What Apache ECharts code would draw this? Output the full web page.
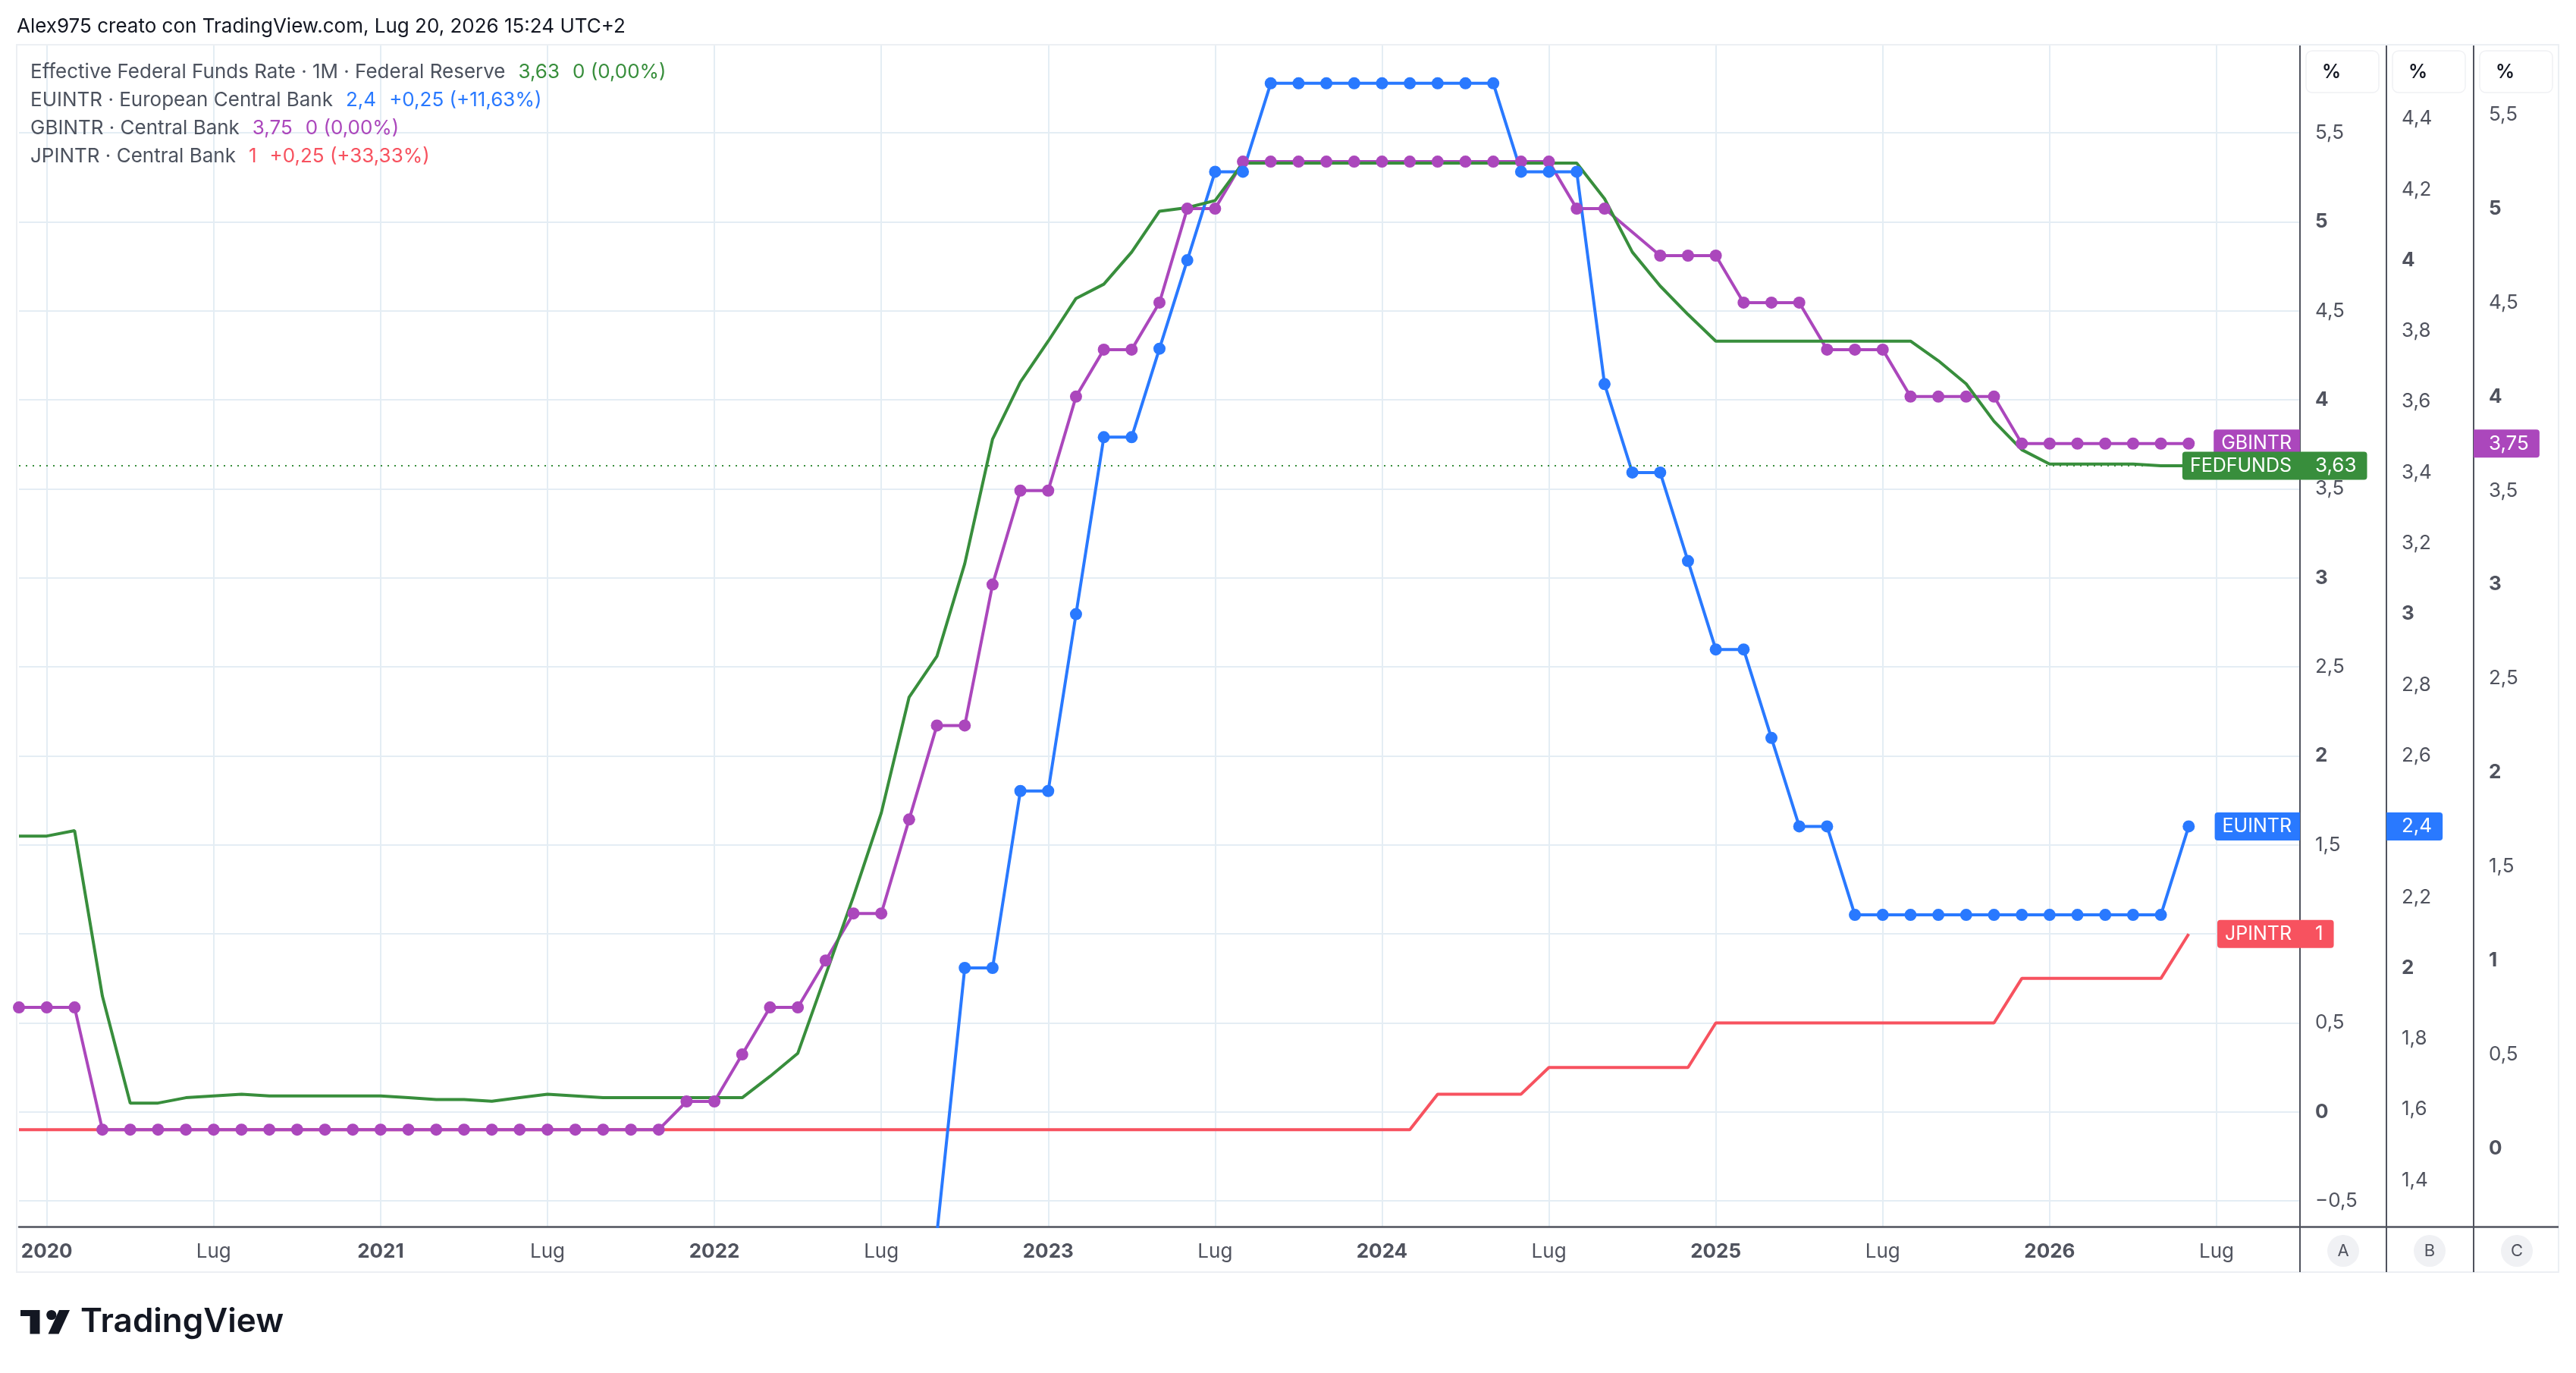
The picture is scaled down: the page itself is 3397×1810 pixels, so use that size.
<!DOCTYPE html>
<html>
<head>
<meta charset="utf-8">
<title>Tassi banche centrali</title>
<script src="https://cdn.jsdelivr.net/npm/echarts@6/dist/echarts.min.js"></script>
<style>
  html, body { margin: 0; padding: 0; background: #ffffff; }
  #chart { width: 3397px; height: 1810px; }
</style>
</head>
<body>
<div id="chart"></div>
<script>
// mesi (categorie asse x), da dic 2019 a ott 2026
var months = [
  '2019-12',
  '2020-01','2020-02','2020-03','2020-04','2020-05','2020-06','2020-07','2020-08','2020-09','2020-10','2020-11','2020-12',
  '2021-01','2021-02','2021-03','2021-04','2021-05','2021-06','2021-07','2021-08','2021-09','2021-10','2021-11','2021-12',
  '2022-01','2022-02','2022-03','2022-04','2022-05','2022-06','2022-07','2022-08','2022-09','2022-10','2022-11','2022-12',
  '2023-01','2023-02','2023-03','2023-04','2023-05','2023-06','2023-07','2023-08','2023-09','2023-10','2023-11','2023-12',
  '2024-01','2024-02','2024-03','2024-04','2024-05','2024-06','2024-07','2024-08','2024-09','2024-10','2024-11','2024-12',
  '2025-01','2025-02','2025-03','2025-04','2025-05','2025-06','2025-07','2025-08','2025-09','2025-10','2025-11','2025-12',
  '2026-01','2026-02','2026-03','2026-04','2026-05','2026-06','2026-07','2026-08','2026-09','2026-10'
];

// Effective Federal Funds Rate (scala A)
var fedFunds = [
  1.55,
  1.55, 1.58, 0.65, 0.05, 0.05, 0.08, 0.09, 0.10, 0.09, 0.09, 0.09, 0.09,
  0.09, 0.08, 0.07, 0.07, 0.06, 0.08, 0.10, 0.09, 0.08, 0.08, 0.08, 0.08,
  0.08, 0.08, 0.20, 0.33, 0.77, 1.21, 1.68, 2.33, 2.56, 3.08, 3.78, 4.10,
  4.33, 4.57, 4.65, 4.83, 5.06, 5.08, 5.12, 5.33, 5.33, 5.33, 5.33, 5.33,
  5.33, 5.33, 5.33, 5.33, 5.33, 5.33, 5.33, 5.33, 5.13, 4.83, 4.64, 4.48,
  4.33, 4.33, 4.33, 4.33, 4.33, 4.33, 4.33, 4.33, 4.22, 4.09, 3.88, 3.72,
  3.64, 3.64, 3.64, 3.64, 3.63, 3.63
];

// EUINTR (scala B)
var euIntr = [
  0,
  0, 0, 0, 0, 0, 0, 0, 0, 0, 0, 0, 0,
  0, 0, 0, 0, 0, 0, 0, 0, 0, 0, 0, 0,
  0, 0, 0, 0, 0, 0, 0.5, 0.5, 1.25, 2.0, 2.0, 2.5,
  2.5, 3.0, 3.5, 3.5, 3.75, 4.0, 4.25, 4.25, 4.5, 4.5, 4.5, 4.5,
  4.5, 4.5, 4.5, 4.5, 4.5, 4.25, 4.25, 4.25, 3.65, 3.4, 3.4, 3.15,
  2.9, 2.9, 2.65, 2.4, 2.4, 2.15, 2.15, 2.15, 2.15, 2.15, 2.15, 2.15,
  2.15, 2.15, 2.15, 2.15, 2.15, 2.4
];

// GBINTR (scala C) - ott 2024 manca nel grafico
var gbIntr = [
  0.75,
  0.75, 0.75, 0.1, 0.1, 0.1, 0.1, 0.1, 0.1, 0.1, 0.1, 0.1, 0.1,
  0.1, 0.1, 0.1, 0.1, 0.1, 0.1, 0.1, 0.1, 0.1, 0.1, 0.1, 0.25,
  0.25, 0.5, 0.75, 0.75, 1.0, 1.25, 1.25, 1.75, 2.25, 2.25, 3.0, 3.5,
  3.5, 4.0, 4.25, 4.25, 4.5, 5.0, 5.0, 5.25, 5.25, 5.25, 5.25, 5.25,
  5.25, 5.25, 5.25, 5.25, 5.25, 5.25, 5.25, 5.0, 5.0, null, 4.75, 4.75,
  4.75, 4.5, 4.5, 4.5, 4.25, 4.25, 4.25, 4.0, 4.0, 4.0, 4.0, 3.75,
  3.75, 3.75, 3.75, 3.75, 3.75, 3.75
];

// JPINTR (scala A)
var jpIntr = [
  -0.1,
  -0.1, -0.1, -0.1, -0.1, -0.1, -0.1, -0.1, -0.1, -0.1, -0.1, -0.1, -0.1,
  -0.1, -0.1, -0.1, -0.1, -0.1, -0.1, -0.1, -0.1, -0.1, -0.1, -0.1, -0.1,
  -0.1, -0.1, -0.1, -0.1, -0.1, -0.1, -0.1, -0.1, -0.1, -0.1, -0.1, -0.1,
  -0.1, -0.1, -0.1, -0.1, -0.1, -0.1, -0.1, -0.1, -0.1, -0.1, -0.1, -0.1,
  -0.1, -0.1, 0.1, 0.1, 0.1, 0.1, 0.25, 0.25, 0.25, 0.25, 0.25, 0.25,
  0.5, 0.5, 0.5, 0.5, 0.5, 0.5, 0.5, 0.5, 0.5, 0.5, 0.5, 0.75,
  0.75, 0.75, 0.75, 0.75, 0.75, 1.0
];

// tacche delle tre scale di prezzo
var ticksA = [-0.5, 0, 0.5, 1, 1.5, 2, 2.5, 3, 3.5, 4, 4.5, 5, 5.5];
var ticksB = [1.4, 1.6, 1.8, 2, 2.2, 2.4, 2.6, 2.8, 3, 3.2, 3.4, 3.6, 3.8, 4, 4.2, 4.4];
var ticksC = [0, 0.5, 1, 1.5, 2, 2.5, 3, 3.5, 4, 4.5, 5, 5.5];

var C_FED = '#388e3c', C_EU = '#2979ff', C_GB = '#ab47bc', C_JP = '#f7525f';
var TXT = '#50535e';
var FONT = 'Inter, Roboto, sans-serif';

var gridTop = 59, gridBottom = 193, gridLeft = 25, gridRight = 364;
var axisX = [3033, 3147, 3262];

function fmtNum(v) {
  var r = Math.round(v * 100) / 100;
  return String(r).replace('.', ',').replace('-', '\u2212');
}
function axisFmt(v) {
  var r = Math.round(v * 100) / 100;
  return Number.isInteger(r) ? '{b|' + fmtNum(r) + '}' : fmtNum(r);
}
function changeText(arr) {
  var last = arr[arr.length - 1], prev = arr[arr.length - 2];
  var d = Math.round((last - prev) * 100) / 100;
  var pct = (d / prev * 100).toFixed(2).replace('.', ',');
  if (d === 0) return '0 (0,00%)';
  return (d > 0 ? '+' : '') + fmtNum(d) + ' (' + (d > 0 ? '+' : '') + pct + '%)';
}

function isMark(v) {
  return v.slice(5) === '01' || v.slice(5) === '07';
}

function yAxisOf(offset, min, max, ticks) {
  return {
    type: 'value', position: 'right', offset: offset,
    min: min, max: max,
    axisLine: { show: true, lineStyle: { color: TXT, width: 2 } },
    axisTick: { show: false, customValues: ticks },
    axisLabel: {
      customValues: ticks, margin: 20, fontSize: 26, color: TXT, fontFamily: FONT,
      formatter: axisFmt,
      rich: { b: { fontSize: 26, fontWeight: 'bold', color: TXT, fontFamily: FONT } }
    },
    splitLine: { show: false }
  };
}

var chart = echarts.init(document.getElementById('chart'));

var yA = yAxisOf(0, -0.644, 5.995, ticksA);
yA.splitLine = { show: true, lineStyle: { color: '#e4edf4', width: 2 } };

var option = {
  animation: false,
  backgroundColor: '#ffffff',
  textStyle: { fontFamily: FONT },
  grid: { left: gridLeft, right: gridRight, top: gridTop, bottom: gridBottom },
  xAxis: {
    type: 'category', data: months, boundaryGap: false,
    axisLine: { show: true, onZero: false, lineStyle: { color: TXT, width: 2.5 } },
    axisTick: { show: false },
    axisLabel: {
      interval: function (i, v) { return isMark(v); },
      margin: 20, fontSize: 26, color: TXT, fontFamily: FONT,
      formatter: function (v) {
        return v.slice(5) === '01' ? '{b|' + v.slice(0, 4) + '}' : 'Lug';
      },
      rich: { b: { fontSize: 26, fontWeight: 'bold', color: TXT, fontFamily: FONT } }
    },
    splitLine: {
      show: true,
      interval: function (i, v) { return isMark(v); },
      lineStyle: { color: '#e4edf4', width: 2 }
    }
  },
  yAxis: [
    yA,
    yAxisOf(114, 1.269, 4.609, ticksB),
    yAxisOf(229, -0.416, 5.872, ticksC)
  ],
  series: [
    {
      name: 'JPINTR', type: 'line', yAxisIndex: 0, data: jpIntr,
      showSymbol: false, lineStyle: { color: C_JP, width: 4 }, itemStyle: { color: C_JP }
    },
    {
      name: 'GBINTR', type: 'line', yAxisIndex: 2, data: gbIntr, connectNulls: true,
      symbol: 'circle', symbolSize: 16, showAllSymbol: true,
      lineStyle: { color: C_GB, width: 4 }, itemStyle: { color: C_GB }
    },
    {
      name: 'EUINTR', type: 'line', yAxisIndex: 1, data: euIntr,
      symbol: 'circle', symbolSize: 16, showAllSymbol: true,
      lineStyle: { color: C_EU, width: 4 }, itemStyle: { color: C_EU }
    },
    {
      name: 'FEDFUNDS', type: 'line', yAxisIndex: 0, data: fedFunds,
      showSymbol: false, lineStyle: { color: C_FED, width: 4 }, itemStyle: { color: C_FED },
      markLine: {
        silent: true, symbol: ['none', 'none'], label: { show: false },
        lineStyle: { color: C_FED, width: 2, type: [2, 7] },
        data: [{ yAxis: fedFunds[fedFunds.length - 1] }]
      }
    }
  ]
};
chart.setOption(option);

// elementi fissi: intestazione, legenda, logo, riquadri delle scale
var legendRows = [
  ['Effective Federal Funds Rate \u00b7 1M \u00b7 Federal Reserve', fedFunds, C_FED],
  ['EUINTR \u00b7 European Central Bank', euIntr, C_EU],
  ['GBINTR \u00b7 Central Bank', gbIntr, C_GB],
  ['JPINTR \u00b7 Central Bank', jpIntr, C_JP]
];
var legendY = [95, 132, 169, 206];

var els = [];
els.push({
  type: 'rect', z: 1, silent: true,
  shape: { x: 22, y: 59, width: 3352, height: 1618 },
  style: { fill: null, stroke: '#eceff3', lineWidth: 2 }
});
els.push({
  type: 'text', x: 22, y: 35, z: 50,
  style: { text: 'Alex975 creato con TradingView.com, Lug 20, 2026 15:24 UTC+2',
    fill: '#131722', fontSize: 26, fontFamily: FONT, verticalAlign: 'middle' }
});
legendRows.forEach(function (r, i) {
  var arr = r[1];
  els.push({
    type: 'text', x: 40, y: legendY[i], z: 50,
    style: {
      text: '{l|' + r[0] + '}{v|' + fmtNum(arr[arr.length - 1]) + '}{v|' + changeText(arr) + '}',
      verticalAlign: 'middle', fontFamily: FONT, fontSize: 26,
      rich: {
        l: { fill: '#4c525e', fontSize: 26, fontFamily: FONT },
        v: { fill: r[2], fontSize: 26, fontFamily: FONT, padding: [0, 0, 0, 17] }
      }
    }
  });
});
// logo TradingView
els.push({ type: 'rect', z: 50, shape: { x: 27, y: 1727, width: 25, height: 8 }, style: { fill: '#131722' } });
els.push({ type: 'rect', z: 50, shape: { x: 39.5, y: 1727, width: 13, height: 31.5 }, style: { fill: '#131722' } });
els.push({ type: 'circle', z: 50, shape: { cx: 67.8, cy: 1733.5, r: 6.6 }, style: { fill: '#131722' } });
els.push({ type: 'polygon', z: 50, shape: { points: [[78, 1727], [92, 1727], [77.5, 1758.5], [63.5, 1758.5]] }, style: { fill: '#131722' } });
els.push({
  type: 'text', x: 106, y: 1743, z: 50,
  style: { text: 'TradingView', fill: '#131722', fontSize: 44, fontWeight: 600,
    fontFamily: FONT, verticalAlign: 'middle' }
});
// intestazioni % e bottoni A B C, prolungamenti delle linee d'asse
['A', 'B', 'C'].forEach(function (l, k) {
  var ax = axisX[k];
  els.push({
    type: 'rect', z: 40,
    shape: { x: ax + 8, y: 67, width: 96, height: 55, r: 8 },
    style: { fill: '#ffffff', stroke: '#f0f1f4', lineWidth: 1.5 }
  });
  els.push({
    type: 'text', x: ax + 29, y: 95, z: 41,
    style: { text: '%', fill: '#131722', fontSize: 25, fontWeight: 600, fontFamily: FONT, verticalAlign: 'middle' }
  });
  els.push({
    type: 'line', z: 40,
    shape: { x1: ax, y1: 1617, x2: ax, y2: 1677 },
    style: { stroke: TXT, lineWidth: 2 }
  });
  els.push({
    type: 'circle', z: 40,
    shape: { cx: ax + 57, cy: 1649, r: 21 },
    style: { fill: '#f0f1f4' }
  });
  els.push({
    type: 'text', x: ax + 57, y: 1649, z: 41,
    style: { text: l, fill: TXT, fontSize: 22, fontFamily: FONT, align: 'center', verticalAlign: 'middle' }
  });
});
els.push({
  type: 'line', z: 40,
  shape: { x1: axisX[0], y1: 1617.5, x2: 3374, y2: 1617.5 },
  style: { stroke: TXT, lineWidth: 2.5 }
});

// etichette dell'ultimo valore, posizionate con la scala della serie
var tags = [
  { name: 'JPINTR', data: jpIntr, series: 0, axis: 0, color: C_JP },
  { name: 'EUINTR', data: euIntr, series: 2, axis: 1, color: C_EU },
  { name: 'GBINTR', data: gbIntr, series: 1, axis: 2, color: C_GB },
  { name: 'FEDFUNDS', data: fedFunds, series: 3, axis: 0, color: C_FED }
];
tags.forEach(function (t, i) {
  var last = t.data.length - 1;
  var p = chart.convertToPixel({ seriesIndex: t.series }, [months[last], t.data[last]]);
  els.push({
    type: 'text', x: axisX[0], y: p[1], z: 60 + i * 2,
    style: {
      text: t.name, fill: '#ffffff', fontSize: 25, fontFamily: FONT, lineHeight: 25,
      align: 'right', verticalAlign: 'middle',
      backgroundColor: t.color, padding: [6, 11, 6, 10], borderRadius: [4, 0, 0, 4]
    }
  });
  els.push({
    type: 'text', x: axisX[t.axis], y: p[1], z: 61 + i * 2,
    style: {
      text: fmtNum(t.data[last]), fill: '#ffffff', fontSize: 26, fontFamily: FONT, lineHeight: 25,
      align: 'left', verticalAlign: 'middle',
      backgroundColor: t.color, padding: [6, 14, 6, 20], borderRadius: [0, 4, 4, 0]
    }
  });
});

chart.setOption({ graphic: { elements: els } });
</script>
</body>
</html>
